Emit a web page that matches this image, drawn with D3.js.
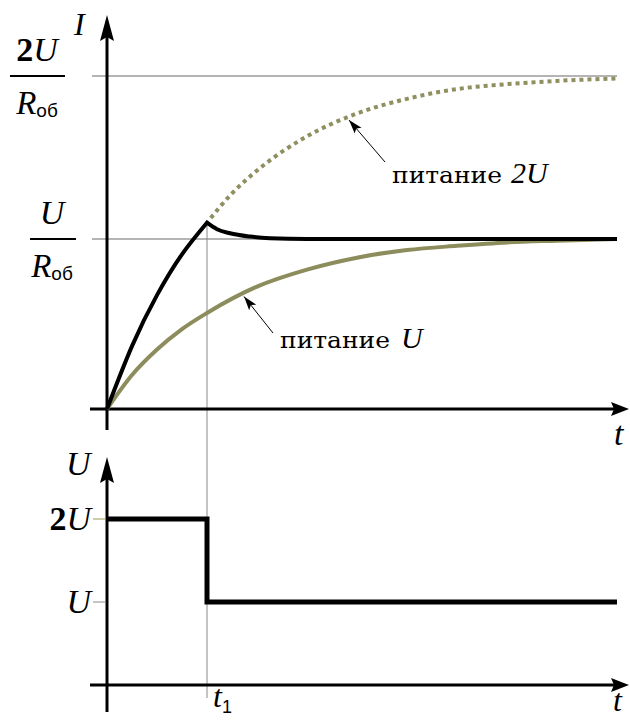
<!DOCTYPE html>
<html>
<head>
<meta charset="utf-8">
<script src="https://cdn.jsdelivr.net/npm/d3@7"></script>
<style>
  html, body { margin: 0; padding: 0; background: #fff; }
  svg { display: block; }
  .math { font-family: "Liberation Serif", "Times New Roman", serif; font-style: italic; }
  .up { font-family: "Liberation Serif", "Times New Roman", serif; font-style: normal; font-weight: bold; }
  .sub { font-family: "Liberation Sans", Arial, sans-serif; font-style: normal; }
  .ann { font-family: "DejaVu Serif", serif; }
</style>
</head>
<body>
<svg id="chart" width="630" height="722"></svg>
<script>
// Time in units of t1; current in units of U/R_об; voltage in units of U.

// Current when supplied with U (reaches U/R_об)
const tSupplyU = [0, 0.25, 0.5, 0.75, 1, 1.5, 2, 2.5, 3, 3.5, 4, 4.5, 5.1];
const iSupplyU = [0, 0.2, 0.35, 0.47, 0.565, 0.72, 0.82, 0.89, 0.935, 0.96, 0.98, 0.99, 1];

// Actual current: boosted by 2U until t1, then settles at U/R_об
const tRise = [0, 0.25, 0.5, 0.75, 1];
const iRise = [0, 0.37, 0.67, 0.91, 1.1];
const tSettle = [1, 1.1, 1.23, 1.43, 1.63, 2, 5.1];
const iSettle = [1.1, 1.06, 1.035, 1.015, 1.005, 1, 1];

// Current that 2U would have produced after t1 (dotted)
const tSupply2U = [1, 1.25, 1.5, 2, 2.5, 3, 3.5, 4, 4.5, 5.1];
const iSupply2U = [1.1, 1.28, 1.42, 1.63, 1.77, 1.86, 1.92, 1.95, 1.97, 1.985];

// Supply voltage step
const tVoltage = [0, 1, 1, 5.1];
const vVoltage = [2, 2, 1, 1];

// Reference levels and labels
const currentLevels = [1, 2];
const voltageTicks = [1, 2];
const annotations = [
  { text: "питание", sym: "2U", t: 2.4, series: "2U" },
  { text: "питание", sym: "U", t: 1.35, series: "U" }
];

const svg = d3.select("#chart");

const x = d3.scaleLinear().domain([0, 1]).range([107, 207]);
const yI = d3.scaleLinear().domain([0, 1, 2]).range([409, 239, 76]);
const yV = d3.scaleLinear().domain([0, 2]).range([685, 519]);

const tEnd = 5.1, tArrow = 5.22, tStart = -0.17;

const zip = (a, b) => a.map((d, i) => [d, b[i]]);
const lineI = d3.line().x(d => x(d[0])).y(d => yI(d[1])).curve(d3.curveMonotoneX);
const lineRise = d3.line().x(d => x(d[0])).y(d => yI(d[1])).curve(d3.curveNatural);
const lineV = d3.line().x(d => x(d[0])).y(d => yV(d[1]));

function interp(ts, vs, t) {
  const i = Math.max(1, d3.bisectLeft(ts, t));
  const f = (t - ts[i - 1]) / (ts[i] - ts[i - 1]);
  return vs[i - 1] + f * (vs[i] - vs[i - 1]);
}

// ---------- top panel: current ----------
// horizontal reference levels
svg.append("g").selectAll("line").data(currentLevels).join("line")
  .attr("x1", x(tStart) + 2).attr("x2", x(tEnd))
  .attr("y1", d => yI(d)).attr("y2", d => yI(d))
  .attr("stroke", "#b4b4b4").attr("stroke-width", 2);

// t1 guide line across both panels
svg.append("line")
  .attr("x1", x(1)).attr("x2", x(1))
  .attr("y1", yI(iRise[iRise.length - 1])).attr("y2", yV(0) + 13)
  .attr("stroke", "#8a8a8a").attr("stroke-width", 1);

// axes
function axisArrow(g, x0, y0, x1, y1) {
  g.append("line").attr("x1", x0).attr("y1", y0).attr("x2", x1).attr("y2", y1)
    .attr("stroke", "#000").attr("stroke-width", 3);
}
function headRight(g, xt, yt) {
  g.append("path").attr("d", `M${xt},${yt} L${xt - 18},${yt - 7} L${xt - 15},${yt} L${xt - 18},${yt + 7} Z`).attr("fill", "#000");
}
function headUp(g, xt, yt) {
  g.append("path").attr("d", `M${xt},${yt} L${xt - 7},${yt + 26} L${xt},${yt + 22} L${xt + 7},${yt + 26} Z`).attr("fill", "#000");
}
const axes = svg.append("g");
axisArrow(axes, x(tStart), yI(0), x(tArrow) - 6, yI(0));
headRight(axes, x(tArrow), yI(0));
axisArrow(axes, x(0), yI(0) + 21, x(0), 30);
headUp(axes, x(0), 15);

axisArrow(axes, x(tStart), yV(0), x(tArrow) - 6, yV(0));
headRight(axes, x(tArrow), yV(0));
axisArrow(axes, x(0), 712, x(0), 470);
headUp(axes, x(0), 457);

// supply-U curve
svg.append("path").datum(zip(tSupplyU, iSupplyU)).attr("d", lineI)
  .attr("fill", "none").attr("stroke", "#8c8c5c").attr("stroke-width", 4);

// supply-2U continuation (dotted)
svg.append("path").datum(zip(tSupply2U, iSupply2U)).attr("d", lineI)
  .attr("fill", "none").attr("stroke", "#8f8f60").attr("stroke-width", 4)
  .attr("stroke-dasharray", "4,4").attr("stroke-dashoffset", -6);

// actual current
const actual = lineRise(zip(tRise, iRise)) + lineI(zip(tSettle, iSettle)).replace(/^M/, "L");
svg.append("path").attr("d", actual)
  .attr("fill", "none").attr("stroke", "#000").attr("stroke-width", 4)
  .attr("stroke-linejoin", "miter");

// annotations
const defs = svg.append("defs");
defs.append("marker").attr("id", "tip").attr("viewBox", "0 0 14 10")
  .attr("refX", 14).attr("refY", 5).attr("markerWidth", 14).attr("markerHeight", 10)
  .attr("markerUnits", "userSpaceOnUse").attr("orient", "auto")
  .append("path").attr("d", "M0,0.5 L14,5 L0,9.5 L3,5 Z").attr("fill", "#000");

const annPos = {
  "2U": { from: [385, 162], label: [392, 183] },
  "U": { from: [273, 333], label: [280, 348] }
};
annotations.forEach(a => {
  const ts = a.series === "2U" ? tSupply2U : tSupplyU;
  const vs = a.series === "2U" ? iSupply2U : iSupplyU;
  const tx = x(a.t), ty = yI(interp(ts, vs, a.t));
  const p = annPos[a.series];
  svg.append("line").attr("x1", p.from[0]).attr("y1", p.from[1])
    .attr("x2", tx + 2).attr("y2", ty + 2)
    .attr("stroke", "#000").attr("stroke-width", 1).attr("marker-end", "url(#tip)");
  const txt = svg.append("text").attr("x", p.label[0]).attr("y", p.label[1]);
  txt.append("tspan").attr("class", "ann").attr("font-size", 23)
    .attr("textLength", 110).attr("lengthAdjust", "spacingAndGlyphs").text(a.text);
  if (a.sym === "2U") {
    txt.append("tspan").attr("class", "math").attr("font-style", "normal").attr("font-size", 30).attr("dx", 9).text("2");
    txt.append("tspan").attr("class", "math").attr("font-size", 30).text("U");
  } else {
    txt.append("tspan").attr("class", "math").attr("font-size", 30).attr("dx", 11).text("U");
  }
});

// ---------- left-hand current labels ----------
function fraction(cx, yLine, x0, x1, numTwo) {
  const num = svg.append("text").attr("x", cx).attr("y", yLine - 15).attr("text-anchor", "middle").attr("font-size", 34);
  if (numTwo) num.append("tspan").attr("class", "up").text("2");
  num.append("tspan").attr("class", "math").text("U");
  svg.append("line").attr("x1", x0).attr("x2", x1).attr("y1", yLine).attr("y2", yLine)
    .attr("stroke", "#000").attr("stroke-width", 2);
  const den = svg.append("text").attr("x", cx).attr("y", yLine + 38).attr("text-anchor", "middle");
  den.append("tspan").attr("class", "math").attr("font-size", 33).text("R");
  den.append("tspan").attr("class", "sub").attr("font-size", 19).attr("dy", 3).text("об");
}
fraction(37, yI(2), 10, 65, true);
fraction(52, yI(1), 30, 76, false);

svg.append("text").attr("class", "math").attr("x", 74).attr("y", 35).attr("font-size", 32).text("I");
svg.append("text").attr("class", "math").attr("x", 614).attr("y", 445).attr("font-size", 34).text("t");

// ---------- bottom panel: voltage ----------
svg.append("path").datum(zip(tVoltage, vVoltage)).attr("d", lineV)
  .attr("fill", "none").attr("stroke", "#000").attr("stroke-width", 5)
  .attr("stroke-linejoin", "miter");

svg.append("g").selectAll("line").data(voltageTicks).join("line")
  .attr("x1", x(0) - 14).attr("x2", x(0) - 2)
  .attr("y1", d => yV(d)).attr("y2", d => yV(d))
  .attr("stroke", (d, i) => i ? "#9a9a50" : "#8a8a8a").attr("stroke-width", 1);

const vLab = svg.append("g").selectAll("text").data(voltageTicks).join("text")
  .attr("x", x(0) - 16).attr("y", d => yV(d) + 11).attr("text-anchor", "end").attr("font-size", 34);
vLab.each(function(d) {
  const t = d3.select(this);
  if (d === 2) t.append("tspan").attr("class", "up").text("2");
  t.append("tspan").attr("class", "math").text("U");
});

svg.append("text").attr("class", "math").attr("x", 66).attr("y", 475).attr("font-size", 34).text("U");
svg.append("text").attr("class", "math").attr("x", 613).attr("y", 711).attr("font-size", 32).text("t");

const t1 = svg.append("text").attr("x", x(1) + 6).attr("y", 707);
t1.append("tspan").attr("class", "math").attr("font-size", 32).text("t");
t1.append("tspan").attr("class", "sub").attr("font-size", 18).attr("dy", 6).text("1");
</script>
</body>
</html>
